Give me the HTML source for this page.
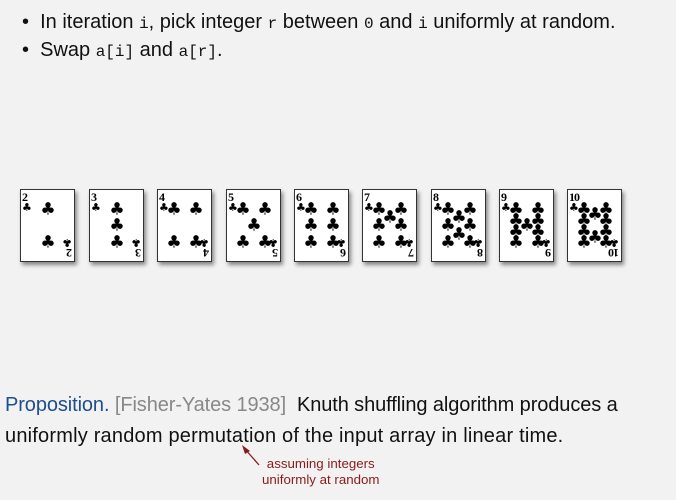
<!DOCTYPE html>
<html><head><meta charset="utf-8"><style>
body{margin:0;width:676px;height:500px;background:#f2f2f2;position:relative;overflow:hidden;font-family:"Liberation Sans",sans-serif}
.t{position:absolute;font-size:20px;color:#111;white-space:nowrap}
.m{font-family:"Liberation Mono",monospace;font-size:16px}
.c{position:absolute;top:189px;width:53px;height:71px;background:#fff;border:1px solid #333;box-shadow:2px 3px 4px rgba(0,0,0,.45)}
.c span{position:absolute;font-family:"DejaVu Sans",sans-serif;font-size:17px;line-height:1;transform:translate(-50%,-50%)}
.c .n{font-family:"Liberation Serif",serif;font-weight:bold;font-size:12px;transform:none;left:1px;top:1px;letter-spacing:-1px}
.c .s{font-size:11px;transform:none;left:1px;top:12px}
.c .br{position:absolute;right:1px;bottom:1px;transform:rotate(180deg);width:12px;height:24px}
.c .br .n{left:1px;top:1px}.c .br .s{left:1px;top:12px}
</style></head><body>
<div class="t" style="left:22px;top:11px">•&nbsp; In iteration <span class="m">i</span>, pick integer <span class="m">r</span> between <span class="m">0</span> and <span class="m">i</span> uniformly at random.</div>
<div class="t" style="left:22px;top:39px">•&nbsp; Swap <span class="m">a[i]</span> and <span class="m">a[r]</span>.</div>

<div class="c" style="left:20px"><span class="n">2</span><span class="s">♣</span><span style="left:27px;top:20px">♣</span><span style="left:27px;top:53px">♣</span><div class="br"><span class="n">2</span><span class="s">♣</span></div></div>
<div class="c" style="left:89px"><span class="n">3</span><span class="s">♣</span><span style="left:27px;top:20px">♣</span><span style="left:27px;top:36px">♣</span><span style="left:27px;top:53px">♣</span><div class="br"><span class="n">3</span><span class="s">♣</span></div></div>
<div class="c" style="left:157px"><span class="n">4</span><span class="s">♣</span><span style="left:16px;top:20px">♣</span><span style="left:38px;top:20px">♣</span><span style="left:16px;top:53px">♣</span><span style="left:38px;top:53px">♣</span><div class="br"><span class="n">4</span><span class="s">♣</span></div></div>
<div class="c" style="left:226px"><span class="n">5</span><span class="s">♣</span><span style="left:16px;top:20px">♣</span><span style="left:38px;top:20px">♣</span><span style="left:27px;top:36px">♣</span><span style="left:16px;top:53px">♣</span><span style="left:38px;top:53px">♣</span><div class="br"><span class="n">5</span><span class="s">♣</span></div></div>
<div class="c" style="left:294px"><span class="n">6</span><span class="s">♣</span><span style="left:16px;top:20px">♣</span><span style="left:38px;top:20px">♣</span><span style="left:16px;top:36px">♣</span><span style="left:38px;top:36px">♣</span><span style="left:16px;top:53px">♣</span><span style="left:38px;top:53px">♣</span><div class="br"><span class="n">6</span><span class="s">♣</span></div></div>
<div class="c" style="left:362px"><span class="n">7</span><span class="s">♣</span><span style="left:16px;top:20px">♣</span><span style="left:38px;top:20px">♣</span><span style="left:27px;top:28px">♣</span><span style="left:16px;top:36px">♣</span><span style="left:38px;top:36px">♣</span><span style="left:16px;top:53px">♣</span><span style="left:38px;top:53px">♣</span><div class="br"><span class="n">7</span><span class="s">♣</span></div></div>
<div class="c" style="left:431px"><span class="n">8</span><span class="s">♣</span><span style="left:16px;top:20px">♣</span><span style="left:38px;top:20px">♣</span><span style="left:27px;top:28px">♣</span><span style="left:16px;top:36px">♣</span><span style="left:38px;top:36px">♣</span><span style="left:27px;top:45px">♣</span><span style="left:16px;top:53px">♣</span><span style="left:38px;top:53px">♣</span><div class="br"><span class="n">8</span><span class="s">♣</span></div></div>
<div class="c" style="left:499px"><span class="n">9</span><span class="s">♣</span><span style="left:16px;top:20px">♣</span><span style="left:38px;top:20px">♣</span><span style="left:16px;top:31px">♣</span><span style="left:38px;top:31px">♣</span><span style="left:27px;top:36px">♣</span><span style="left:16px;top:42px">♣</span><span style="left:38px;top:42px">♣</span><span style="left:16px;top:53px">♣</span><span style="left:38px;top:53px">♣</span><div class="br"><span class="n">9</span><span class="s">♣</span></div></div>
<div class="c" style="left:567px"><span class="n">10</span><span class="s">♣</span><span style="left:16px;top:20px">♣</span><span style="left:38px;top:20px">♣</span><span style="left:27px;top:25px">♣</span><span style="left:16px;top:31px">♣</span><span style="left:38px;top:31px">♣</span><span style="left:16px;top:42px">♣</span><span style="left:38px;top:42px">♣</span><span style="left:27px;top:48px">♣</span><span style="left:16px;top:53px">♣</span><span style="left:38px;top:53px">♣</span><div class="br"><span class="n">10</span><span class="s">♣</span></div></div>

<div class="t" style="left:5px;top:394px;font-size:20px;letter-spacing:-0.1px"><span style="color:#1f4e8c">Proposition.</span> <span style="color:#888">[Fisher-Yates 1938]</span>&nbsp; Knuth shuffling algorithm produces a</div>
<div class="t" style="left:5px;top:425px;font-size:20px;letter-spacing:0.2px">uniformly random permutation of the input array in linear time.</div>
<svg style="position:absolute;left:0;top:0" width="676" height="500"><line x1="259" y1="465" x2="245" y2="449" stroke="#8b1a1a" stroke-width="1.3"/><polygon points="242,445 250,451 245,454" fill="#8b1a1a"/></svg>
<div class="t" style="left:262px;top:456px;font-size:13.3px;color:#8b1a1a;text-align:center;line-height:16px">assuming integers<br>uniformly at random</div>
</body></html>
